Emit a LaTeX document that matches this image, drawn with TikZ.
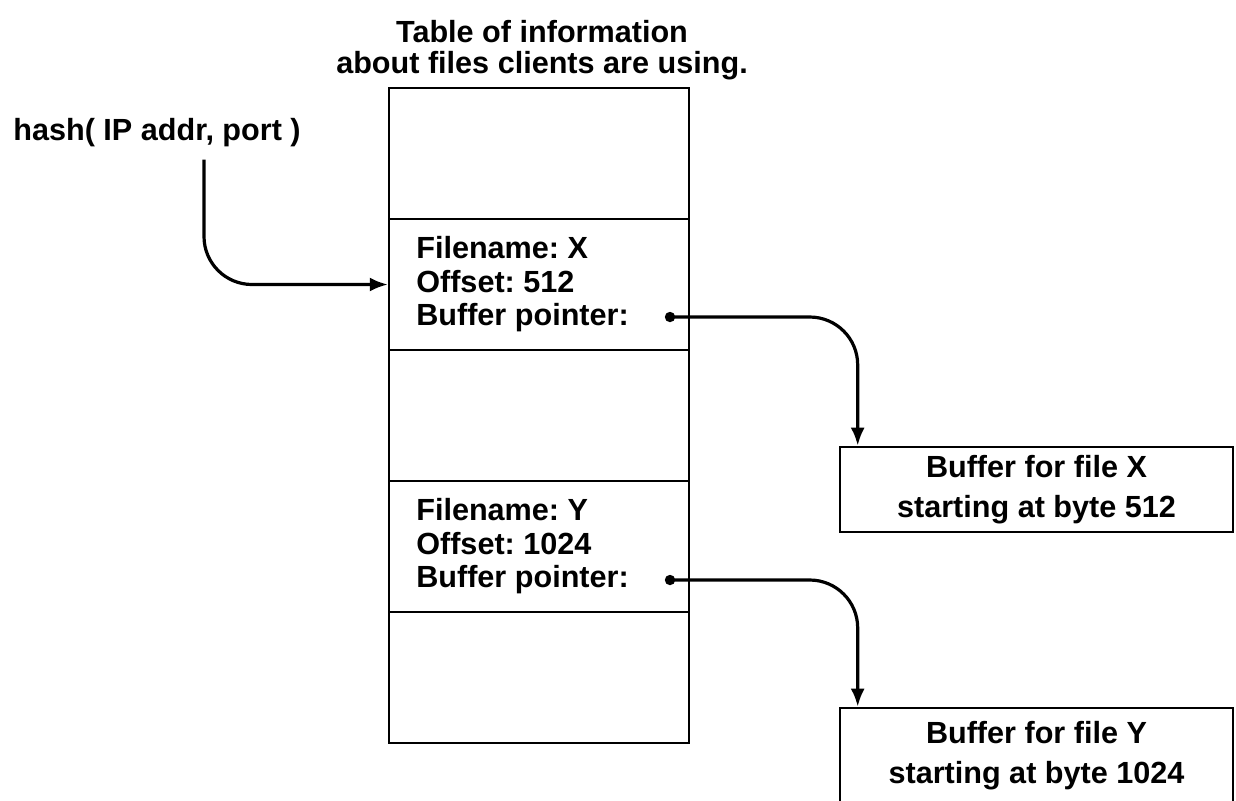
\documentclass[tikz,border=0pt]{standalone}
\usepackage{fontspec}
\setmainfont{Liberation Sans}
\frenchspacing
\usetikzlibrary{arrows.meta}
\usetikzlibrary{positioning}
\tikzset{row/.style = {draw, line width = 1.1pt, minimum width = 150pt,
                       minimum height = 65.5pt, inner sep = 0pt},
         info/.style = {align = left, inner sep = 0pt,
                        font = \fontsize{15.3pt}{16.75pt}\selectfont\bfseries},
         buffer/.style = {draw, line width = 1.3pt, minimum width = 196.5pt,
                          minimum height = 42.5pt, align = center,
                          font = \fontsize{15.3pt}{20pt}\selectfont\bfseries},
         pointer/.style = {line width = 1.6pt, rounded corners = 24pt,
                           -{Latex[length = 9pt, width = 7pt]}}}

\begin{document}
\begin{tikzpicture}[x = 0.5pt, y = -0.5pt]
      \clip (0, 0) rectangle (1236, 800);

      \node [info, align = center, font = \fontsize{15.3pt}{15.5pt}\selectfont\bfseries]
        (title) at (542, 50) {Table of information\\about files clients are using.};

      \foreach \i in {1, ..., 5}
        \node [row] (row\i) at (539, 22.5 + 131*\i) {};

      \node [info, right = 14pt of row2.west, anchor = west] (infox)
        {Filename: X\\Offset: 512\\Buffer pointer:};
      \node [info, right = 14pt of row4.west, anchor = west] (infoy)
        {Filename: Y\\Offset: 1024\\Buffer pointer:};

      \node [info] (hash) at (157, 133) {hash( IP addr, port )};

      \node [buffer] (bufx) at (1036.5, 489.5) {Buffer for file X\\starting at byte 512};
      \node [buffer, minimum height = 48pt] (bufy) at (1036.5, 756)
        {Buffer for file Y\\starting at byte 1024};

      \coordinate (ptrx) at (670, 317);
      \coordinate (ptry) at (670, 580);
      \fill (ptrx) circle (2.6pt);
      \fill (ptry) circle (2.6pt);

      \draw [pointer] ([xshift = 23.5pt, yshift = -6pt]hash.south) |- (row2.west);
      \draw [pointer] (ptrx) -| ([xshift = 9.5pt]bufx.north west);
      \draw [pointer] (ptry) -| ([xshift = 9.5pt]bufy.north west);
    \end{tikzpicture}
\end{document}
